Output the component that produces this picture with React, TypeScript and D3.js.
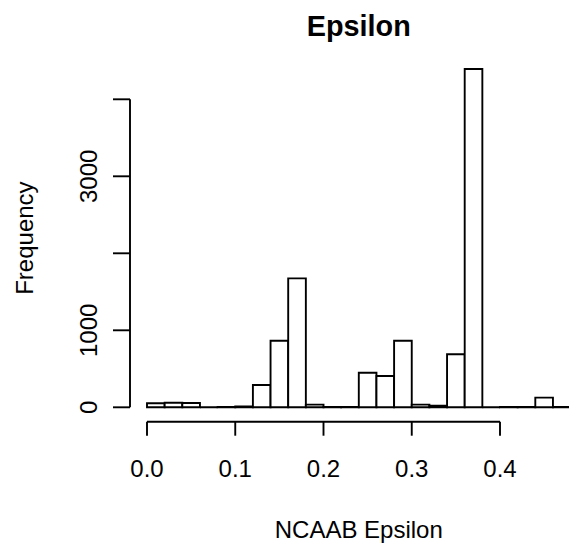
import React from "react";
import * as d3 from "d3";

const binStarts = [0, 0.02, 0.04, 0.06, 0.08, 0.1, 0.12, 0.14, 0.16, 0.18, 0.2, 0.22, 0.24, 0.26, 0.28, 0.3, 0.32, 0.34, 0.36, 0.38, 0.4, 0.42, 0.44, 0.46];
const binWidth = 0.02;
const counts = [52, 60, 55, 0, 5, 10, 290, 865, 1675, 35, 5, 5, 449, 407, 865, 35, 20, 688, 4394, 0, 5, 5, 126, 3];
const xTicks = [0, 0.1, 0.2, 0.3, 0.4];
const yTicks = [0, 1000, 2000, 3000, 4000];
const yTickLabels = [0, 1000, 3000];
const title = "Epsilon";
const xLabel = "NCAAB Epsilon";
const yLabel = "Frequency";

const W = 569;
const H = 548;
const FONT = "'Liberation Sans', Arial, Helvetica, sans-serif";

export default function App() {
  const x = d3.scaleLinear().domain([0, 0.4]).range([147, 500]);
  const y = d3.scaleLinear().domain([0, 4000]).range([407.3, 99.3]);
  const plotLeft = 130;
  const plotRight = x(0.4992);
  const plotTop = y(4570);
  const plotBottom = y(-176);
  const lw = 1.9;

  const barPath = (b: number, c: number) => {
    const p = d3.path();
    p.moveTo(x(b), y(0));
    p.lineTo(x(b), y(c));
    p.lineTo(x(b + binWidth), y(c));
    p.lineTo(x(b + binWidth), y(0));
    p.closePath();
    return p.toString();
  };

  return (
    <svg width={W} height={H} style={{ display: "block", position: "absolute", left: 0, top: 0, background: "#fff" }}>
      <defs>
        <clipPath id="plotclip">
          <rect x={plotLeft} y={plotTop} width={plotRight - plotLeft} height={plotBottom - plotTop} />
        </clipPath>
      </defs>
      <rect x={0} y={0} width={W} height={H} fill="#fff" />
      <g clipPath="url(#plotclip)">
        {binStarts.map((b, i) => (
          <path key={i} d={barPath(b, counts[i])} fill="#fff" stroke="#000" strokeWidth={lw} />
        ))}
      </g>
      {/* x axis */}
      <g stroke="#000" strokeWidth={lw} fill="none">
        <line x1={x(xTicks[0])} x2={x(xTicks[xTicks.length - 1])} y1={421.7} y2={421.7} />
        {xTicks.map((t) => (
          <line key={t} x1={x(t)} x2={x(t)} y1={421.7} y2={435.7} />
        ))}
      </g>
      {xTicks.map((t) => (
        <text key={t} x={x(t)} y={476.5} textAnchor="middle" fontFamily={FONT} fontSize={24} fill="#000">
          {d3.format(".1f")(t)}
        </text>
      ))}
      {/* y axis */}
      <g stroke="#000" strokeWidth={lw} fill="none">
        <line x1={plotLeft} x2={plotLeft} y1={y(yTicks[0])} y2={y(yTicks[yTicks.length - 1])} />
        {yTicks.map((t) => (
          <line key={t} x1={plotLeft} x2={113} y1={y(t)} y2={y(t)} />
        ))}
      </g>
      {yTickLabels.map((t) => (
        <text
          key={t}
          transform={`translate(97,${y(t)}) rotate(-90)`}
          textAnchor="middle"
          fontFamily={FONT}
          fontSize={24}
          fill="#000"
        >
          {String(t)}
        </text>
      ))}
      <text x={(plotLeft + plotRight) / 2} y={36} textAnchor="middle" fontFamily={FONT} fontSize={28.8} fontWeight="bold" fill="#000">
        {title}
      </text>
      <text x={(plotLeft + plotRight) / 2} y={538} textAnchor="middle" fontFamily={FONT} fontSize={24} fill="#000">
        {xLabel}
      </text>
      <text
        transform={`translate(33,${(plotTop + plotBottom) / 2}) rotate(-90)`}
        textAnchor="middle"
        fontFamily={FONT}
        fontSize={24}
        fill="#000"
      >
        {yLabel}
      </text>
    </svg>
  );
}
